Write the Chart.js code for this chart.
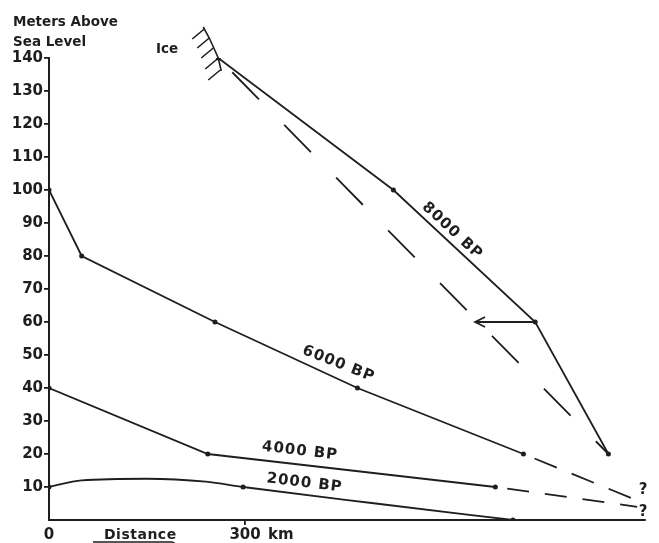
<!DOCTYPE html>
<html>
<head>
<meta charset="utf-8">
<script src="https://cdn.jsdelivr.net/npm/chart.js@4/dist/chart.umd.min.js"></script>
<style>
    html, body { margin: 0; padding: 0; background: #fff; }
    #wrap { width: 659px; height: 543px; position: relative; }
</style>
</head>
<body>
<div id="wrap"><canvas id="chart"></canvas></div>
<script>
// [distance km, metres above sea level]
const bp8000 = [[259, 140], [527, 100], [744, 60], [856, 20]];
const bp8000Dashed = [[259, 140], [856, 20]];
const bp8000Arrow = [[744, 60], [652, 60]];
const bp6000 = [[0, 100], [50, 80], [254, 60], [472, 40], [726, 20]];
const bp6000Dashed = [[726, 20], [893, 6.5]];
const bp4000 = [[0, 40], [243, 20], [683, 10]];
const bp4000Dashed = [[683, 10], [900, 4]];
const bp2000 = [[0, 10], [50, 12], [150, 12.5], [240, 11.6], [297, 10], [500, 5], [710, 0]];
const bp2000Dots = [0, 297, 710];

const yTicks = [10, 20, 30, 40, 50, 60, 70, 80, 90, 100, 110, 120, 130, 140];
const xTicks = [0, 300];
const xMax = 912;

// label text, centre (km, m), segment it follows
const seriesLabels = [
    ["8000 BP", 617, 87.6, bp8000[1], bp8000[2]],
    ["6000 BP", 443, 47.3, bp6000[3], bp6000[4]],
    ["4000 BP", 384, 20.9, bp4000[1], bp4000[2]],
    ["2000 BP", 391, 11.2, bp2000[4], bp2000[6]],
];
const questionMarks = [[909, 9], [909, 2.4]];

const ink = "#1e1e1e";
const font = "'DejaVu Sans', sans-serif";
const pts = (arr) => arr.map(([x, y]) => ({ x, y }));

function line (data, extra) {
    return Object.assign({
        data: pts(data),
        borderColor: ink,
        borderWidth: 1.8,
        pointRadius: 2.5,
        pointBackgroundColor: ink,
        pointBorderWidth: 0,
        tension: 0,
        fill: false,
    }, extra);
}

const annotations = {
    id: "annotations",
    afterDatasetsDraw (chart) {
        const { ctx } = chart;
        const xs = chart.scales.x, ys = chart.scales.y;
        const px = (x) => xs.getPixelForValue(x);
        const py = (y) => ys.getPixelForValue(y);
        ctx.save();
        ctx.fillStyle = ink;
        ctx.strokeStyle = ink;
        ctx.lineWidth = 1.8;

        // series labels along their lines
        ctx.font = "bold 15px " + font;
        ctx.letterSpacing = "1px";
        ctx.textAlign = "center";
        ctx.textBaseline = "middle";
        for (const [text, x, y, a, b] of seriesLabels) {
            const ang = Math.atan2(py(b[1]) - py(a[1]), px(b[0]) - px(a[0]));
            ctx.save();
            ctx.translate(px(x), py(y));
            ctx.rotate(ang);
            ctx.fillText(text, 0, 0);
            ctx.restore();
        }

        // question marks at the end of the dashed lines
        ctx.font = "bold 15px " + font;
        ctx.letterSpacing = "0px";
        for (const [x, y] of questionMarks) ctx.fillText("?", px(x), py(y));

        // arrowhead
        const tx = px(bp8000Arrow[1][0]), ty = py(bp8000Arrow[1][1]);
        ctx.beginPath();
        ctx.moveTo(tx + 10, ty - 5);
        ctx.lineTo(tx, ty);
        ctx.lineTo(tx + 10, ty + 5);
        ctx.stroke();

        // ice front with hatching
        const ix = px(bp8000[0][0]), iy = py(bp8000[0][1]);
        const front = [[-15, -31], [-9, -20], [-4, -9], [0, 0], [3, 13]];
        ctx.lineWidth = 1.6;
        ctx.beginPath();
        front.forEach(([dx, dy], i) => i ? ctx.lineTo(ix + dx, iy + dy) : ctx.moveTo(ix + dx, iy + dy));
        ctx.stroke();
        const hatch = [[-14, -29], [-9, -20], [-5, -10], [-1, 1], [2, 12]];
        ctx.beginPath();
        for (const [dx, dy] of hatch) {
            ctx.moveTo(ix + dx, iy + dy);
            ctx.lineTo(ix + dx - 12, iy + dy + 10);
        }
        ctx.stroke();

        // texts
        ctx.textAlign = "left";
        ctx.textBaseline = "alphabetic";
        ctx.font = "bold 13.5px " + font;
        ctx.fillText("Meters Above", 13, 26);
        ctx.fillText("Sea Level", 13, 46);
        ctx.fillText("Ice", 156, 53);
        ctx.font = "bold 15px " + font;
        ctx.fillText("km", px(300) + 23, 539);
        ctx.font = "bold 14px " + font;
        ctx.letterSpacing = "0.5px";
        ctx.fillText("Distance", 104, 539);
        ctx.lineWidth = 1.4;
        ctx.beginPath();
        ctx.moveTo(93, 542);
        ctx.lineTo(172, 542);
        ctx.lineTo(180, 546);
        ctx.stroke();
        ctx.restore();
    },
};

new Chart(document.getElementById("chart"), {
    type: "line",
    data: {
        datasets: [
            line(bp8000),
            line(bp8000Dashed, { pointRadius: 0, borderDash: [38, 36], borderDashOffset: 54 }),
            line(bp8000Arrow, { pointRadius: 0 }),
            line(bp6000),
            line(bp6000Dashed, { pointRadius: 0, borderDash: [24, 16], borderDashOffset: 28 }),
            line(bp4000),
            line(bp4000Dashed, { pointRadius: 0, borderDash: [22, 16], borderDashOffset: 26 }),
            line(bp2000, {
                cubicInterpolationMode: "monotone",
                pointRadius: (c) => bp2000Dots.includes(c.raw.x) ? 2.5 : 0,
            }),
        ],
    },
    options: {
        responsive: true,
        maintainAspectRatio: false,
        animation: false,
        layout: { padding: { left: 0, right: 14, top: 58, bottom: 0 } },
        plugins: { legend: { display: false }, tooltip: { enabled: false } },
        scales: {
            x: {
                type: "linear",
                min: 0,
                max: xMax,
                afterBuildTicks: (s) => { s.ticks = xTicks.map((v) => ({ value: v })); },
                afterFit: (s) => { s.height = 23; },
                ticks: { color: ink, font: { family: font, size: 15, weight: "bold" }, padding: 1, maxRotation: 0 },
                grid: {
                    drawOnChartArea: false,
                    tickLength: 5,
                    lineWidth: 1.8,
                    color: (c) => c.tick && c.tick.value === 0 ? "rgba(0,0,0,0)" : ink,
                },
                border: { color: ink, width: 2 },
            },
            y: {
                type: "linear",
                min: 0,
                max: 140,
                afterBuildTicks: (s) => { s.ticks = yTicks.map((v) => ({ value: v })); },
                afterFit: (s) => { s.width = 49; },
                ticks: { color: ink, font: { family: font, size: 15, weight: "bold" }, padding: 1 },
                grid: { drawOnChartArea: false, tickLength: 5, lineWidth: 1.8, color: ink },
                border: { color: ink, width: 2 },
            },
        },
    },
    plugins: [annotations],
});
</script>
</body>
</html>
